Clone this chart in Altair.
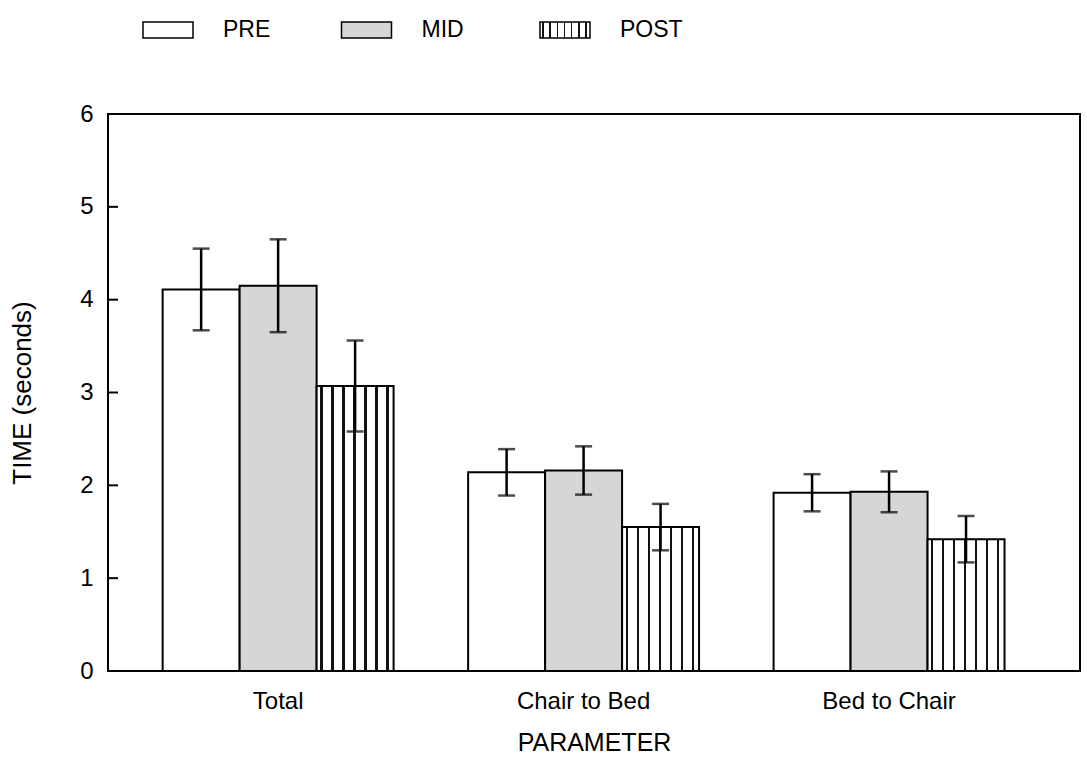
import altair as alt
import pandas as pd

# ---- data -------------------------------------------------------------
parameters = ["Total", "Chair to Bed", "Bed to Chair"]
phases = ["PRE", "MID", "POST"]

pre_mean = [4.11, 2.14, 1.92]
pre_err = [0.44, 0.25, 0.20]
mid_mean = [4.15, 2.16, 1.93]
mid_err = [0.50, 0.26, 0.22]
post_mean = [3.07, 1.55, 1.42]
post_err = [0.49, 0.25, 0.25]

y_tick_values = [0, 1, 2, 3, 4, 5, 6]
inner_tick_values = [1, 2, 3, 4, 5]

series = {
    "PRE": (pre_mean, pre_err),
    "MID": (mid_mean, mid_err),
    "POST": (post_mean, post_err),
}

rows = []
for i, param in enumerate(parameters):
    for phase in phases:
        means, errs = series[phase]
        rows.append({
            "param": param,
            "phase": phase,
            "mean": means[i],
            "lo": means[i] - errs[i],
            "hi": means[i] + errs[i],
        })
df = pd.DataFrame(rows)
legend_df = pd.DataFrame({"phase": phases})
ticks_df = pd.DataFrame({"v": inner_tick_values})

# ---- styling ----------------------------------------------------------
FONT = "Liberation Sans"
W, H = 972, 557


def wavy_stripes(n=7, a=0.32, b=0.54):
    """Vertical hatch used for the POST bars."""
    stops = [alt.GradientStop(offset=0, color="white")]
    for k in range(n):
        s, e = (k + a) / n, (k + b) / n
        stops += [
            alt.GradientStop(offset=s, color="white"),
            alt.GradientStop(offset=s, color="#111111"),
            alt.GradientStop(offset=e, color="#111111"),
            alt.GradientStop(offset=e, color="white"),
        ]
    stops.append(alt.GradientStop(offset=1, color="white"))
    return alt.LinearGradient(gradient="linear", stops=stops, x1=0, x2=1, y1=0, y2=0)


FILLS = {"PRE": "white", "MID": "#d6d6d6", "POST": wavy_stripes()}

x_scale = alt.Scale(domain=parameters, paddingInner=0.244, paddingOuter=0.213, align=0.42)
xo_scale = alt.Scale(domain=phases, paddingInner=0, paddingOuter=0)
y_scale = alt.Scale(domain=[0, 6], nice=False, zero=True)

x_axis = alt.Axis(
    title="PARAMETER", labelAngle=0, ticks=False, domain=False,
    labelPadding=18, labelFontSize=24, labelFont=FONT, labelColor="black",
    titleFontSize=25, titleFont=FONT, titleFontWeight="normal", titleColor="black",
    titlePadding=17,
)
y_axis = alt.Axis(
    title="TIME (seconds)", values=y_tick_values, ticks=False, domain=False, grid=False,
    labelPadding=15, labelFontSize=24, labelFont=FONT, labelColor="black",
    titleFontSize=26, titleFont=FONT, titleFontWeight="normal", titleColor="black",
    titlePadding=44,
)

base = alt.Chart(df)
Y_MEAN = alt.Y("mean:Q", scale=y_scale, axis=y_axis)

# ---- bars, one layer per phase so each gets its own fill ---------------
bar_layers = []
for idx, phase in enumerate(phases):
    layer = base.transform_filter(alt.datum.phase == phase).mark_bar(
        fill=FILLS[phase], stroke="black", strokeWidth=2
    ).encode(
        x=alt.X("param:N", scale=x_scale, axis=x_axis if idx == 0 else None, sort=parameters),
        xOffset=alt.XOffset("phase:N", scale=xo_scale, sort=phases),
        y=Y_MEAN,
    )
    bar_layers.append(layer)

# ---- error bars -------------------------------------------------------
def x_enc():
    return alt.X("param:N", scale=x_scale, axis=None, sort=parameters)


def xo_enc():
    return alt.XOffset("phase:N", scale=xo_scale, sort=phases)


err_rule = base.mark_rule(color="black", strokeWidth=2.5).encode(
    x=x_enc(), xOffset=xo_enc(),
    y=alt.Y("lo:Q", scale=y_scale, axis=y_axis),
    y2="hi:Q",
)
cap_hi = base.mark_tick(color="black", thickness=2.5, size=17).encode(
    x=x_enc(), xOffset=xo_enc(),
    y=alt.Y("hi:Q", scale=y_scale, axis=y_axis),
)
cap_lo = base.mark_tick(color="black", thickness=2.5, size=17).encode(
    x=x_enc(), xOffset=xo_enc(),
    y=alt.Y("lo:Q", scale=y_scale, axis=y_axis),
)

# ---- inward-pointing y ticks -------------------------------------------
inner_ticks = alt.Chart(ticks_df).mark_rule(color="black", strokeWidth=2).encode(
    y=alt.Y("v:Q", scale=y_scale, axis=y_axis),
    x=alt.value(0),
    x2=alt.value(10),
)

# ---- legend row above the plot -----------------------------------------
legend_x = alt.X(
    "phase:N",
    scale=alt.Scale(type="point", domain=phases, range=[60, 457], padding=0),
    axis=None, sort=phases,
)
legend_layers = []
for phase in phases:
    legend_layers.append(
        alt.Chart(legend_df).transform_filter(alt.datum.phase == phase).mark_bar(
            fill=FILLS[phase], stroke="black", strokeWidth=1.5, width=50
        ).encode(x=legend_x, y=alt.value(-92), y2=alt.value(-76))
    )
legend_text = alt.Chart(legend_df).mark_text(
    align="left", baseline="middle", dx=55, fontSize=23, font=FONT, color="black"
).encode(x=legend_x, y=alt.value(-84), text="phase:N")

chart = alt.layer(
    *bar_layers, err_rule, cap_hi, cap_lo, inner_ticks, *legend_layers, legend_text
).resolve_scale(
    x="independent"
).properties(
    width=W,
    height=H,
    autosize=alt.AutoSizeParams(type="none"),
    padding={"left": 108, "top": 114, "right": 7, "bottom": 101},
    background="white",
).configure_view(
    stroke="black", strokeWidth=2
)

chart.save("out.html", embed_options={"renderer": "svg", "actions": False})
